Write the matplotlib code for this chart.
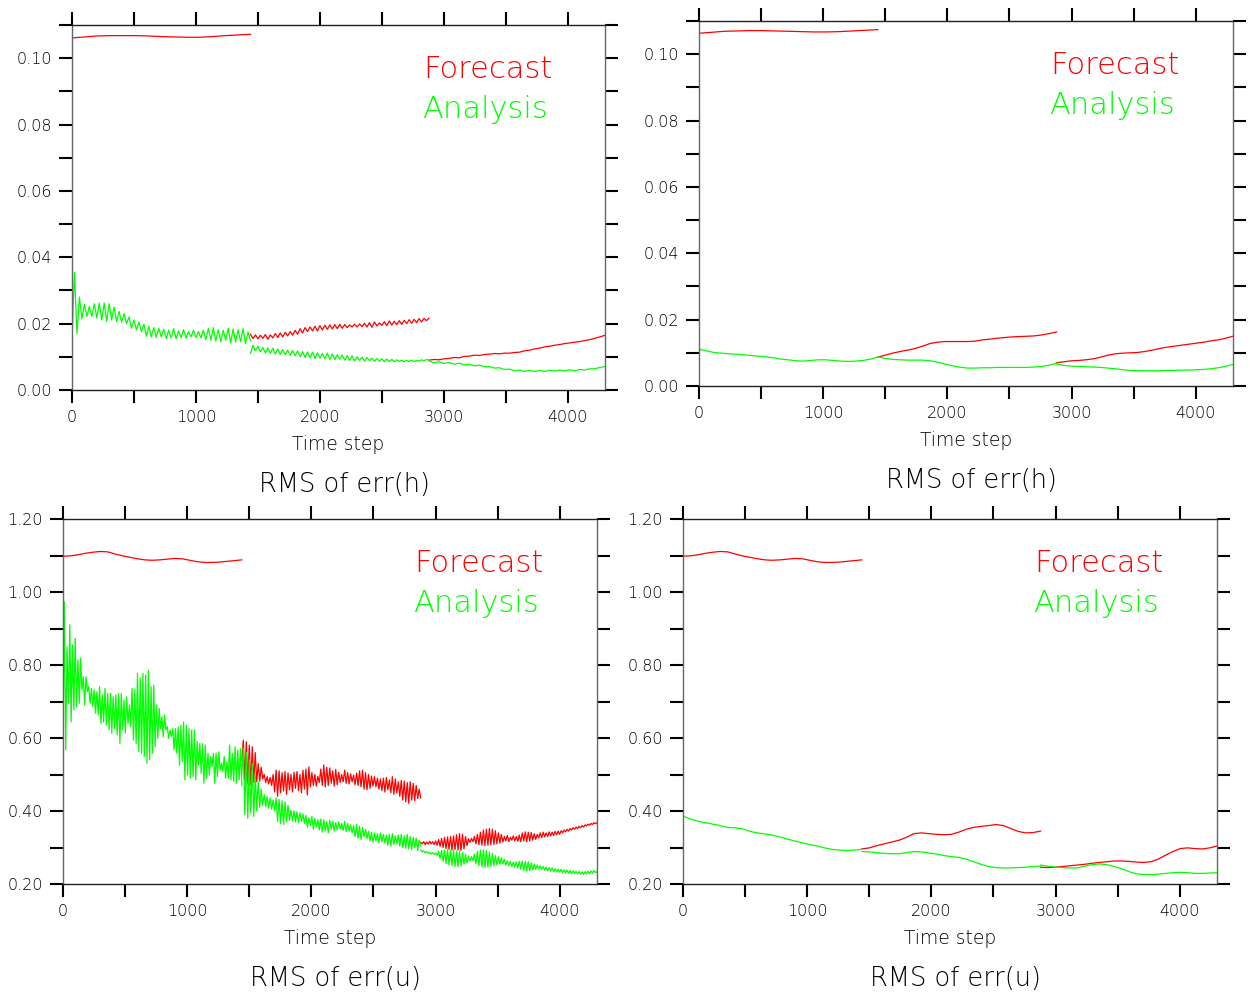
import numpy as np
import matplotlib
matplotlib.use("Agg")
import matplotlib.pyplot as plt
from matplotlib.ticker import MultipleLocator, FixedLocator, FixedFormatter

# ---------------- data ----------------
# assimilation cycles (time-step ranges); each series is drawn as three pieces
cycles = [(0, 1440), (1440, 2880), (2880, 4300)]

x_tick_values = [0, 1000, 2000, 3000, 4000]
x_tick_labels = ["0", "1000", "2000", "3000", "4000"]
h_tick_values = [0.00, 0.02, 0.04, 0.06, 0.08, 0.10]
h_tick_labels = ["0.00", "0.02", "0.04", "0.06", "0.08", "0.10"]
u_tick_values = [0.20, 0.40, 0.60, 0.80, 1.00, 1.20]
u_tick_labels = ["0.20", "0.40", "0.60", "0.80", "1.00", "1.20"]

# ---- panel 1 : RMS of err(h), left ----
h1_fc_a = [0.1061, 0.1064, 0.1067, 0.1068, 0.1068, 0.1068, 0.1067, 0.1065, 0.1064, 0.1063,
           0.1063, 0.1065, 0.1068, 0.1070, 0.1072]
h1_fc_b = [0.0168, 0.0155, 0.0166, 0.0154, 0.0165, 0.0156, 0.0167, 0.0153, 0.0166, 0.0157,
           0.0170, 0.0158, 0.0172, 0.0160, 0.0174, 0.0163, 0.0176, 0.0165, 0.0180, 0.0168,
           0.0185, 0.0172, 0.0188, 0.0176, 0.0190, 0.0178, 0.0192, 0.0178, 0.0194, 0.0181,
           0.0195, 0.0183, 0.0196, 0.0184, 0.0197, 0.0185, 0.0198, 0.0186, 0.0197, 0.0188,
           0.0196, 0.0190, 0.0198, 0.0190, 0.0199, 0.0191, 0.0201, 0.0190, 0.0203, 0.0189,
           0.0205, 0.0193, 0.0202, 0.0195, 0.0206, 0.0194, 0.0208, 0.0196, 0.0207, 0.0197,
           0.0209, 0.0198, 0.0210, 0.0200, 0.0212, 0.0201, 0.0213, 0.0203, 0.0215, 0.0205,
           0.0216, 0.0209, 0.0217]
h1_fc_c = [0.0090, 0.0092, 0.0091, 0.0094, 0.0095, 0.0098, 0.0097, 0.0101, 0.0102, 0.0105,
           0.0104, 0.0107, 0.0108, 0.0110, 0.0109, 0.0111, 0.0111, 0.0113, 0.0114, 0.0118,
           0.0120, 0.0124, 0.0126, 0.0130, 0.0132, 0.0135, 0.0137, 0.0140, 0.0142, 0.0144,
           0.0146, 0.0149, 0.0152, 0.0156, 0.0160, 0.0165]
h1_an_a = [0.0151, 0.0355, 0.0170, 0.0280, 0.0215, 0.0258, 0.0222, 0.0252, 0.0222, 0.0260,
           0.0217, 0.0262, 0.0211, 0.0262, 0.0206, 0.0260, 0.0211, 0.0250, 0.0206, 0.0237,
           0.0205, 0.0230, 0.0200, 0.0220, 0.0186, 0.0211, 0.0181, 0.0205, 0.0176, 0.0198,
           0.0162, 0.0192, 0.0160, 0.0188, 0.0158, 0.0186, 0.0160, 0.0183, 0.0155, 0.0180,
           0.0157, 0.0185, 0.0155, 0.0178, 0.0158, 0.0182, 0.0156, 0.0176, 0.0160, 0.0180,
           0.0158, 0.0176, 0.0157, 0.0180, 0.0152, 0.0185, 0.0150, 0.0188, 0.0148, 0.0182,
           0.0145, 0.0180, 0.0150, 0.0186, 0.0142, 0.0184, 0.0144, 0.0182, 0.0145, 0.0185,
           0.0140, 0.0175, 0.0148]
h1_an_b = [0.0110, 0.0135, 0.0118, 0.0132, 0.0115, 0.0128, 0.0112, 0.0127, 0.0110, 0.0126,
           0.0108, 0.0124, 0.0107, 0.0122, 0.0106, 0.0120, 0.0104, 0.0119, 0.0103, 0.0118,
           0.0100, 0.0116, 0.0098, 0.0115, 0.0097, 0.0114, 0.0095, 0.0112, 0.0096, 0.0110,
           0.0094, 0.0111, 0.0092, 0.0109, 0.0091, 0.0106, 0.0093, 0.0105, 0.0090, 0.0104,
           0.0089, 0.0103, 0.0088, 0.0100, 0.0089, 0.0099, 0.0087, 0.0098, 0.0088, 0.0096,
           0.0086, 0.0095, 0.0087, 0.0094, 0.0085, 0.0093, 0.0086, 0.0092, 0.0085, 0.0091,
           0.0086, 0.0090, 0.0085, 0.0089, 0.0086, 0.0090, 0.0086, 0.0089, 0.0087, 0.0091,
           0.0088, 0.0092, 0.0090]
h1_an_c = [0.0088, 0.0082, 0.0085, 0.0080, 0.0083, 0.0078, 0.0081, 0.0076, 0.0078, 0.0073,
           0.0075, 0.0070, 0.0071, 0.0066, 0.0067, 0.0062, 0.0063, 0.0058, 0.0060, 0.0056,
           0.0059, 0.0056, 0.0059, 0.0056, 0.0060, 0.0057, 0.0060, 0.0058, 0.0061, 0.0058,
           0.0062, 0.0060, 0.0064, 0.0064, 0.0068, 0.0071]

# ---- panel 2 : RMS of err(h), right ----
h2_fc_a = [0.1063, 0.1066, 0.1069, 0.1070, 0.1071, 0.1071, 0.1070, 0.1069, 0.1068, 0.1067,
           0.1067, 0.1068, 0.1070, 0.1072, 0.1074]
h2_fc_b = [0.0087, 0.0093, 0.0099, 0.0104, 0.0108, 0.0113, 0.0120, 0.0128, 0.0132, 0.0134,
           0.0134, 0.0134, 0.0134, 0.0135, 0.0139, 0.0141, 0.0144, 0.0146, 0.0148, 0.0149,
           0.0150, 0.0151, 0.0154, 0.0158, 0.0163]
h2_fc_c = [0.0070, 0.0073, 0.0076, 0.0077, 0.0079, 0.0082, 0.0087, 0.0093, 0.0097, 0.0099,
           0.0100, 0.0101, 0.0104, 0.0108, 0.0113, 0.0117, 0.0120, 0.0123, 0.0126, 0.0129,
           0.0132, 0.0136, 0.0139, 0.0144, 0.0150]
h2_an_a = [0.0111, 0.0106, 0.0101, 0.0099, 0.0097, 0.0096, 0.0094, 0.0092, 0.0090, 0.0088,
           0.0085, 0.0081, 0.0079, 0.0076, 0.0075, 0.0077, 0.0079, 0.0079, 0.0077, 0.0075,
           0.0074, 0.0075, 0.0077, 0.0081, 0.0087]
h2_an_b = [0.0088, 0.0083, 0.0080, 0.0079, 0.0078, 0.0078, 0.0078, 0.0076, 0.0072, 0.0066,
           0.0061, 0.0057, 0.0054, 0.0054, 0.0055, 0.0055, 0.0056, 0.0056, 0.0056, 0.0056,
           0.0056, 0.0057, 0.0059, 0.0063, 0.0069]
h2_an_c = [0.0066, 0.0062, 0.0060, 0.0059, 0.0058, 0.0057, 0.0056, 0.0054, 0.0052, 0.0049,
           0.0047, 0.0046, 0.0046, 0.0046, 0.0046, 0.0047, 0.0047, 0.0048, 0.0048, 0.0049,
           0.0050, 0.0052, 0.0055, 0.0059, 0.0065]

# ---- panel 3 : RMS of err(u), left ----
u3_fc_a = [1.098, 1.099, 1.102, 1.106, 1.109, 1.111, 1.110, 1.104, 1.099, 1.095,
           1.091, 1.088, 1.087, 1.088, 1.090, 1.092, 1.091, 1.087, 1.083, 1.081,
           1.081, 1.082, 1.084, 1.086, 1.088]
u3_fc_b = [0.540, 0.594, 0.485, 0.590, 0.476, 0.580, 0.472, 0.576, 0.478, 0.560,
           0.480, 0.530, 0.482, 0.520, 0.488, 0.500, 0.478, 0.494, 0.474, 0.492,
           0.470, 0.500, 0.452, 0.512, 0.440, 0.510, 0.450, 0.505, 0.455, 0.508,
           0.446, 0.504, 0.458, 0.500, 0.452, 0.506, 0.462, 0.508, 0.456, 0.500,
           0.450, 0.512, 0.460, 0.515, 0.444, 0.521, 0.466, 0.505, 0.470, 0.500,
           0.468, 0.495, 0.478, 0.515, 0.470, 0.526, 0.466, 0.520, 0.470, 0.518,
           0.476, 0.510, 0.468, 0.514, 0.472, 0.506, 0.478, 0.500, 0.480, 0.512,
           0.476, 0.505, 0.474, 0.502, 0.480, 0.498, 0.472, 0.504, 0.470, 0.510,
           0.466, 0.512, 0.460, 0.505, 0.458, 0.500, 0.462, 0.496, 0.468, 0.494,
           0.466, 0.490, 0.460, 0.488, 0.456, 0.490, 0.452, 0.492, 0.458, 0.485,
           0.450, 0.494, 0.446, 0.488, 0.449, 0.480, 0.440, 0.484, 0.430, 0.482,
           0.425, 0.478, 0.421, 0.480, 0.430, 0.476, 0.428, 0.470, 0.434, 0.460,
           0.436]
u3_fc_c = [0.314, 0.310, 0.316, 0.308, 0.315, 0.309, 0.317, 0.310, 0.316, 0.308,
           0.318, 0.306, 0.322, 0.303, 0.325, 0.300, 0.328, 0.297, 0.329, 0.295,
           0.330, 0.293, 0.332, 0.294, 0.335, 0.293, 0.338, 0.292, 0.336, 0.296,
           0.330, 0.305, 0.324, 0.314, 0.325, 0.316, 0.330, 0.310, 0.336, 0.308,
           0.342, 0.306, 0.348, 0.305, 0.350, 0.306, 0.352, 0.307, 0.350, 0.308,
           0.346, 0.310, 0.340, 0.312, 0.336, 0.315, 0.330, 0.318, 0.333, 0.316,
           0.328, 0.320, 0.332, 0.318, 0.330, 0.317, 0.334, 0.316, 0.340, 0.318,
           0.343, 0.316, 0.342, 0.318, 0.341, 0.320, 0.338, 0.322, 0.336, 0.326,
           0.340, 0.327, 0.342, 0.329, 0.340, 0.330, 0.343, 0.332, 0.342, 0.333,
           0.344, 0.335, 0.345, 0.336, 0.346, 0.340, 0.348, 0.343, 0.350, 0.345,
           0.352, 0.348, 0.354, 0.350, 0.356, 0.352, 0.358, 0.354, 0.360, 0.356,
           0.362, 0.359, 0.364, 0.361, 0.366, 0.363, 0.368, 0.365, 0.368]
u3_an_a = [0.600, 0.973, 0.567, 0.850, 0.695, 0.910, 0.644, 0.855, 0.677, 0.873,
           0.686, 0.814, 0.695, 0.818, 0.732, 0.768, 0.690, 0.768, 0.727, 0.741,
           0.695, 0.736, 0.686, 0.732, 0.668, 0.727, 0.663, 0.741, 0.640, 0.718,
           0.644, 0.736, 0.635, 0.722, 0.622, 0.722, 0.613, 0.713, 0.626, 0.718,
           0.608, 0.722, 0.585, 0.722, 0.622, 0.704, 0.613, 0.713, 0.640, 0.690,
           0.631, 0.736, 0.594, 0.732, 0.585, 0.777, 0.562, 0.764, 0.558, 0.777,
           0.549, 0.773, 0.531, 0.786, 0.540, 0.741, 0.558, 0.745, 0.576, 0.690,
           0.599, 0.681, 0.626, 0.658, 0.603, 0.663, 0.622, 0.631, 0.599, 0.622,
           0.604, 0.626, 0.567, 0.626, 0.558, 0.631, 0.526, 0.635, 0.535, 0.644,
           0.485, 0.635, 0.499, 0.626, 0.490, 0.622, 0.494, 0.622, 0.485, 0.590,
           0.526, 0.585, 0.503, 0.585, 0.476, 0.581, 0.490, 0.558, 0.499, 0.549,
           0.522, 0.558, 0.476, 0.558, 0.494, 0.562, 0.512, 0.531, 0.508, 0.549,
           0.490, 0.535, 0.490, 0.581, 0.485, 0.558, 0.481, 0.576, 0.476, 0.567,
           0.485, 0.572, 0.470]
u3_an_b = [0.500, 0.572, 0.390, 0.560, 0.380, 0.540, 0.395, 0.530, 0.385, 0.500,
           0.400, 0.480, 0.410, 0.460, 0.415, 0.445, 0.412, 0.440, 0.408, 0.436,
           0.405, 0.430, 0.400, 0.436, 0.372, 0.432, 0.365, 0.428, 0.363, 0.425,
           0.370, 0.415, 0.375, 0.402, 0.372, 0.400, 0.370, 0.398, 0.368, 0.395,
           0.372, 0.392, 0.366, 0.388, 0.355, 0.382, 0.360, 0.385, 0.350, 0.380,
           0.356, 0.376, 0.348, 0.378, 0.342, 0.376, 0.345, 0.372, 0.340, 0.374,
           0.350, 0.372, 0.345, 0.368, 0.348, 0.370, 0.350, 0.366, 0.347, 0.372,
           0.344, 0.366, 0.345, 0.362, 0.340, 0.360, 0.330, 0.363, 0.325, 0.358,
           0.322, 0.355, 0.330, 0.350, 0.325, 0.345, 0.318, 0.342, 0.315, 0.340,
           0.318, 0.338, 0.313, 0.340, 0.316, 0.336, 0.312, 0.334, 0.306, 0.336,
           0.304, 0.338, 0.308, 0.332, 0.310, 0.334, 0.304, 0.336, 0.300, 0.332,
           0.298, 0.336, 0.296, 0.330, 0.294, 0.328, 0.300, 0.326, 0.292, 0.320,
           0.305]
u3_an_c = [0.293, 0.288, 0.291, 0.285, 0.289, 0.284, 0.287, 0.282, 0.286, 0.281,
           0.285, 0.279, 0.290, 0.270, 0.292, 0.262, 0.293, 0.256, 0.294, 0.252,
           0.293, 0.250, 0.292, 0.248, 0.290, 0.247, 0.289, 0.250, 0.286, 0.254,
           0.282, 0.258, 0.276, 0.262, 0.275, 0.264, 0.282, 0.255, 0.290, 0.250,
           0.293, 0.247, 0.294, 0.245, 0.292, 0.246, 0.288, 0.248, 0.284, 0.250,
           0.278, 0.252, 0.275, 0.254, 0.272, 0.255, 0.268, 0.252, 0.264, 0.250,
           0.262, 0.248, 0.260, 0.246, 0.261, 0.244, 0.262, 0.240, 0.263, 0.237,
           0.262, 0.235, 0.261, 0.236, 0.258, 0.238, 0.255, 0.240, 0.252, 0.242,
           0.250, 0.240, 0.248, 0.238, 0.246, 0.236, 0.245, 0.235, 0.244, 0.234,
           0.242, 0.233, 0.241, 0.232, 0.240, 0.231, 0.239, 0.230, 0.238, 0.229,
           0.237, 0.228, 0.236, 0.229, 0.235, 0.228, 0.234, 0.227, 0.233, 0.226,
           0.234, 0.227, 0.235, 0.228, 0.236, 0.229, 0.237, 0.231, 0.234]

# ---- panel 4 : RMS of err(u), right ----
u4_fc_a = [1.098, 1.099, 1.102, 1.106, 1.109, 1.111, 1.110, 1.104, 1.099, 1.095,
           1.091, 1.088, 1.087, 1.088, 1.090, 1.092, 1.091, 1.087, 1.083, 1.081,
           1.081, 1.082, 1.084, 1.086, 1.088]
u4_fc_b = [0.296, 0.299, 0.305, 0.310, 0.315, 0.320, 0.328, 0.338, 0.340, 0.338,
           0.336, 0.335, 0.336, 0.342, 0.350, 0.355, 0.358, 0.360, 0.363, 0.360,
           0.352, 0.344, 0.340, 0.341, 0.345]
u4_fc_c = [0.246, 0.245, 0.246, 0.248, 0.250, 0.252, 0.254, 0.257, 0.259, 0.261,
           0.263, 0.263, 0.262, 0.260, 0.259, 0.261, 0.268, 0.279, 0.289, 0.297,
           0.299, 0.297, 0.296, 0.299, 0.304]
u4_an_a = [0.386, 0.378, 0.372, 0.368, 0.364, 0.360, 0.355, 0.354, 0.351, 0.344,
           0.340, 0.337, 0.334, 0.329, 0.323, 0.318, 0.313, 0.308, 0.304, 0.299,
           0.295, 0.293, 0.292, 0.293, 0.295]
u4_an_b = [0.289, 0.288, 0.286, 0.284, 0.283, 0.283, 0.286, 0.289, 0.288, 0.285,
           0.282, 0.278, 0.275, 0.273, 0.268, 0.261, 0.254, 0.248, 0.245, 0.244,
           0.244, 0.245, 0.246, 0.248, 0.249]
u4_an_c = [0.252, 0.249, 0.246, 0.245, 0.244, 0.244, 0.249, 0.253, 0.255, 0.253,
           0.248, 0.242, 0.234, 0.228, 0.226, 0.226, 0.227, 0.229, 0.231, 0.232,
           0.231, 0.229, 0.229, 0.230, 0.231]

panels = [
    dict(fc=[h1_fc_a, h1_fc_b, h1_fc_c], an=[h1_an_a, h1_an_b, h1_an_c],
         ylim=(0.0, 0.11), ystep=0.01, yt=h_tick_values, ytl=h_tick_labels,
         title="RMS of err(h)"),
    dict(fc=[h2_fc_a, h2_fc_b, h2_fc_c], an=[h2_an_a, h2_an_b, h2_an_c],
         ylim=(0.0, 0.11), ystep=0.01, yt=h_tick_values, ytl=h_tick_labels,
         title="RMS of err(h)"),
    dict(fc=[u3_fc_a, u3_fc_b, u3_fc_c], an=[u3_an_a, u3_an_b, u3_an_c],
         ylim=(0.2, 1.2), ystep=0.1, yt=u_tick_values, ytl=u_tick_labels,
         title="RMS of err(u)"),
    dict(fc=[u4_fc_a, u4_fc_b, u4_fc_c], an=[u4_an_a, u4_an_b, u4_an_c],
         ylim=(0.2, 1.2), ystep=0.1, yt=u_tick_values, ytl=u_tick_labels,
         title="RMS of err(u)"),
]

# ---------------- layout (pixels of a 1250x996 canvas) ----------------
W, H = 1250, 996
boxes = [(72, 25, 605, 390), (699, 21, 1233, 386), (63, 519, 597, 884), (683, 519, 1217, 884)]
RED, GREEN = "#ff0000", "#00ff00"
FONT = ["DejaVu Sans"]
WEIGHT = 200

fig = plt.figure(figsize=(W / 100, H / 100), dpi=100)
fig.patch.set_facecolor("white")

for p, (l, t, r, b) in zip(panels, boxes):
    ax = fig.add_axes([l / W, 1 - b / H, (r - l) / W, (b - t) / H])
    for (a, e), vals in zip(cycles, p["fc"]):
        ax.plot(np.linspace(a, e, len(vals)), vals, color=RED, lw=0.9)
    for (a, e), vals in zip(cycles, p["an"]):
        ax.plot(np.linspace(a, e, len(vals)), vals, color=GREEN, lw=0.9)
    ax.set_xlim(0, 4300)
    ax.set_ylim(*p["ylim"])
    ax.xaxis.set_major_locator(FixedLocator(x_tick_values))
    ax.xaxis.set_major_formatter(FixedFormatter(x_tick_labels))
    ax.xaxis.set_minor_locator(MultipleLocator(500))
    ax.yaxis.set_major_locator(FixedLocator(p["yt"]))
    ax.yaxis.set_major_formatter(FixedFormatter(p["ytl"]))
    ax.yaxis.set_minor_locator(MultipleLocator(p["ystep"]))
    for which in ("major", "minor"):
        ax.tick_params(which=which, direction="out", length=9.5, width=1.5, color="black",
                       top=True, right=True, labeltop=False, labelright=False, pad=5)
    for lab in ax.get_xticklabels() + ax.get_yticklabels():
        lab.set_fontfamily(FONT)
        lab.set_fontweight(WEIGHT)
        lab.set_fontsize(11.5)
        lab.set_color("black")
    for name, s in ax.spines.items():
        s.set_linewidth(1.0)
        s.set_color("#222222" if name in ("top", "bottom") else "#666666")
    cx = (l + r) / 2
    fig.text(cx / W, 1 - (b + 60) / H, "Time step", ha="center", va="baseline",
             fontsize=13.5, family=FONT, fontweight=WEIGHT, color="black")
    fig.text((cx + 6) / W, 1 - (b + 102) / H, p["title"], ha="center", va="baseline",
             fontsize=18.5, family=FONT, fontweight=WEIGHT, color="black")
    fig.text((l + 351) / W, 1 - (t + 53) / H, "Forecast", ha="left", va="baseline",
             fontsize=22, family=FONT, fontweight=WEIGHT, color=RED)
    fig.text((l + 350) / W, 1 - (t + 93) / H, "Analysis", ha="left", va="baseline",
             fontsize=22, family=FONT, fontweight=WEIGHT, color=GREEN)

fig.savefig("out.png", dpi=100)
